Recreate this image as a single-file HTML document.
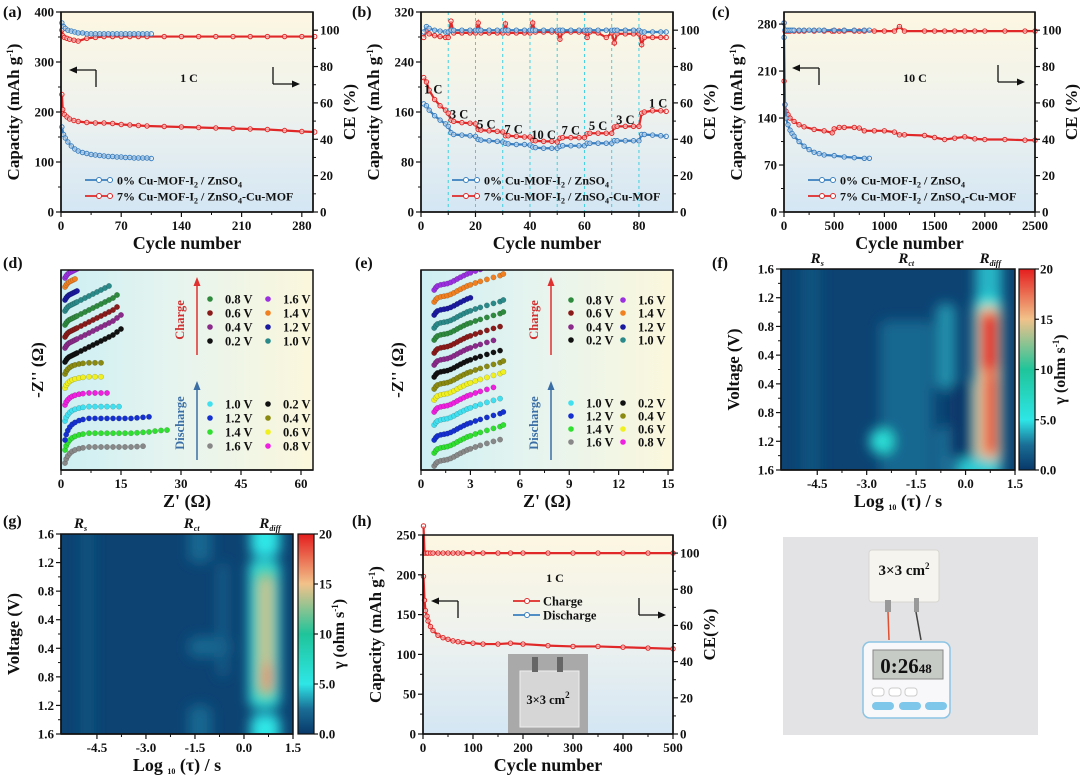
<!DOCTYPE html>
<html><head><meta charset="utf-8"><style>
html,body{margin:0;padding:0;background:#fff;}
svg{display:block;}
text{font-family:"Liberation Serif",serif;font-weight:bold;fill:#111;}
</style></head><body>
<svg id="fig" width="1080" height="775" viewBox="0 0 1080 775">
<defs>
<linearGradient id="bgV" x1="0" y1="0" x2="0" y2="1"><stop offset="0" stop-color="#fdf7e2"/><stop offset="0.5" stop-color="#eef2ee"/><stop offset="1" stop-color="#d4e6f4"/></linearGradient>
<linearGradient id="bgH" x1="0" y1="0" x2="1" y2="0"><stop offset="0" stop-color="#cdeff3"/><stop offset="0.45" stop-color="#e6f4ef"/><stop offset="1" stop-color="#fbf7dc"/></linearGradient>
<linearGradient id="cbar" x1="0" y1="1" x2="0" y2="0"><stop offset="0" stop-color="#08386a"/><stop offset="0.125" stop-color="#1a6e96"/><stop offset="0.25" stop-color="#2ee6e6"/><stop offset="0.5" stop-color="#1fc49a"/><stop offset="0.75" stop-color="#f2c28a"/><stop offset="1" stop-color="#e41e1e"/></linearGradient>
<filter id="blur" x="-50%" y="-50%" width="200%" height="200%"><feGaussianBlur stdDeviation="6"/></filter>
<clipPath id="clipF"><rect x="781" y="269" width="234" height="201"/></clipPath>
<clipPath id="clipG"><rect x="61" y="534" width="232" height="200"/></clipPath>
<clipPath id="clipD"><rect x="61" y="270" width="252" height="200"/></clipPath>
<clipPath id="clipE"><rect x="421" y="270" width="252" height="200"/></clipPath>
</defs>

<!-- panel (i) photo -->
<g>
<rect x="783" y="537" width="255" height="198" fill="#e3e3e5"/>
<rect x="869" y="550" width="70" height="52" rx="3" fill="#f6f4ef" stroke="#d8d6d0"/>
<text x="904" y="575" font-size="15" text-anchor="middle">3×3 cm<tspan dy="-6" font-size="9">2</tspan></text>
<rect x="885" y="600" width="6" height="12" fill="#999"/><rect x="914" y="598" width="5" height="14" fill="#999"/>
<path d="M888 612 L889 640" stroke="#e05030" stroke-width="1.5" fill="none"/>
<path d="M916 612 L921 640" stroke="#444" stroke-width="1.5" fill="none"/>
<rect x="863" y="642" width="87" height="76" rx="7" fill="#f8f8fa" stroke="#8cc4e4" stroke-width="1.5"/>
<rect x="873" y="650" width="70" height="29" fill="#c6cbc6" stroke="#888"/>
<text x="906" y="673" font-size="21" font-family="Liberation Sans, sans-serif" font-weight="normal" text-anchor="middle" fill="#222">0:26<tspan font-size="13">48</tspan></text>
<rect x="872" y="688" width="12" height="8" rx="3" fill="#fff" stroke="#ccc"/><rect x="889" y="688" width="12" height="8" rx="3" fill="#fff" stroke="#ccc"/><rect x="905" y="688" width="12" height="8" rx="3" fill="#fff" stroke="#ccc"/>
<rect x="872" y="702" width="22" height="8" rx="4" fill="#7ec6ea"/><rect x="899" y="702" width="22" height="8" rx="4" fill="#7ec6ea"/><rect x="925" y="702" width="22" height="8" rx="4" fill="#7ec6ea"/>
</g>
</svg>
<script>
// ===== data: panel (a) =====
const aBlueX=[1,3,5,8,12,16,20,25,30,35,40,45,50,55,60,65,70,75,80,85,90,95,100,105];
const aBlueY=[170,155,148,140,132,126,122,119,117,115,114,113,112,111,111,110,110,109,109,108,108,108,108,107];
const aBlueCE=[104,102,101,100,99.5,99,98.5,98.5,98,98,98,98,98,98,98,98,98,98,98,98,98,98,98,98];
const aRedX=[1,2,4,7,10,15,20,30,40,50,60,70,80,90,100,120,140,160,180,200,220,240,260,280,295];
const aRedY=[235,205,195,190,186,183,181,179,178,178,177,175,174,173,172,171,170,169,168,167,166,165,163,161,160];
const aRedCE=[100,97,96,95.5,95,94.5,94,95.5,96,96.5,96.5,96.5,96.5,96.5,96.5,96.5,96.5,96.5,96.5,96.5,96.5,96.5,96.5,96.5,96.5];
const aXTicks=[0,70,140,210,280];
const aYTicks=[0,100,200,300,400];
// ===== data: panel (b) =====
const bX=[1,2,3,5,7,9,10,11,12,15,18,20,21,22,25,28,30,31,32,35,38,40,41,42,45,48,50,51,52,55,58,60,61,62,65,68,70,71,72,75,78,80,81,82,85,88,90];
const bBlueY=[173,170,163,154,147,141,137,127,124,123,122,121,116,115,114,113,112,110,109,108,108,107,104,103,102,102,102,105,106,106,106,106,110,110,110,110,110,114,114,114,114,114,124,124,123,122,121];
const bRedY=[215,208,195,180,170,163,158,147,145,143,142,141,132,131,130,129,128,122,122,121,120,120,115,114,113,113,112,118,119,119,119,119,125,126,126,126,126,136,137,137,137,137,158,160,162,162,161];
const bBlueCE=[99,102,101,100,99.5,99,99,100,100,100,100,100,100,100,100,100,100,100,100,100,100,100,100,100,100,100,100,100,100,100,100,100,100,100,100,100,100,100,100,100,100,100,99,99,99,99,99];
const bRedCE=[96,100,98,97,96.5,96,96,105,98.5,98.5,98.5,98.5,104,98.5,98.5,98.5,98.5,103.5,98.5,98.5,98.5,98.5,104,99,99,99,99,95,99,99,99,99,96,99,98.5,96,98.5,93,98,98,98,98,92,96,96,96,96];
const bXTicks=[0,20,40,60,80];
const bYTicks=[0,80,160,240,320];
const bRateLabels=['1 C','3 C','5 C','7 C','10 C','7 C','5 C','3 C','1 C'];
const bRateX=[4.5,14,24,34,45,55,65,75,87];
const bRateY=[190,150,134,126,117,124,131,141,167];
const bDivs=[10,20,30,40,50,60,70,80];
// ===== data: panel (c) =====
const cBlueX=[1,10,20,40,60,80,100,150,200,250,300,350,400,500,600,700,800,850];
const cBlueY=[260,160,140,130,122,117,113,105,98,93,89,87,85,84,82,81,80,80];
const cBlueCE=[104,100,100,100,100,100,100,100,100,100,100,100,100,100,100,100,100,100];
const cRedX=[1,10,20,40,60,100,150,200,300,400,480,500,550,600,700,750,800,900,1000,1100,1150,1200,1400,1500,1600,1700,1800,1900,2000,2200,2400,2500];
const cRedY=[195,160,150,145,140,135,130,127,123,121,118,124,126,126,126,125,121,121,121,119,115,115,114,111,108,110,112,109,108,108,107,107];
const cRedCE=[104,99.5,99.5,99.5,99.5,99.5,99.5,99.5,99.5,99.5,99.5,99.5,99.5,99.5,99.5,99.5,99.5,99.5,99.5,99.5,102,99.5,99.5,99.5,99.5,99.5,99.5,99.5,99.5,99.5,99.5,99.5];
const cXTicks=[0,500,1000,1500,2000,2500];
const cYTicks=[0,70,140,210,280];
// ===== data: panel (h) =====
const hX=[1,3,5,8,10,15,20,30,40,50,60,70,80,100,120,150,175,200,250,300,350,400,450,500];
const hCap=[198,168,155,148,142,135,130,124,121,119,117,116,115,114,113,113,114,113,111,110,110,109,108,107];
const hCE=[115,100,100,100,100,100,100,100,100,100,100,100,100,100,100,100,100,100,100,100,100,100,100,100];
const hXTicks=[0,100,200,300,400,500];
const hYTicks=[0,50,100,150,200,250];
const ceTicks=[0,20,40,60,80,100];
// ===== data: EIS (d) =====
const dColors=['#888888','#30e030','#1530d0','#40e0f0','#f020e0','#f0f020','#8a8a10','#111111','#8b2a8b','#8b1a1a','#2e8b3e','#2a8a8a','#1a1aa0','#f08020','#9b30e0'];
const dOffset=[3.5,10,15,24.5,32.5,41,48,54,61,66.5,72.5,79.5,85,91.5,96];
const dEnd=[21,26.5,22,15,12.5,11,11,15,15,14.5,14,12,4,3.5,4];
const dKind=['d','d','d','d','d','d','d','c','c','c','c','c','c','c','c'];
const dAmp=[1,1.05,1.35,0.9,0.75,0.7,0.7,1,1,1,1,1,1,1,1];
const dDisShapeX=[0,0.3,0.7,1.2,1.8,2.5,3.5,4.5,6,7.5,9,10.5,12,13.5,15,16.5,18,19.5,21,22.5,24,25.5];
const dDisShapeY=[0,2,3.5,4.8,5.8,6.5,7.2,7.6,8,8,8,8,8,8,8,8,8.2,8.4,8.6,9,9.3,9.5];
const dChgShapeX=[0,0.3,0.6,1,1.5,2,2.5,3,4,5,6,7,8,9,10,11,12,13,14];
const dChgShapeY=[0,1,1.8,2.5,3,3.5,4,4.5,5.5,6.5,7.5,8.5,9.5,10.5,11.5,12.5,13.5,15,16.5];
const dXTicks=[0,15,30,45,60];
// ===== data: EIS (e) =====
const eColors=dColors;
const eOffset=[2,8.5,15,22.5,29,35,40.5,46.5,52.5,58.5,65,71,77.5,84,90];
const eEnd=[4.9,5,5,4.9,4.7,5,5,4.8,4.6,4.9,5,5,3,5,3.6];
const eShapeX=[0.8,0.9,1,1.2,1.4,1.6,1.8,2,2.2,2.4,2.6,2.8,3,3.3,3.6,4,4.4,4.8,5];
const eShapeY=[0,1.2,2,2.6,2.9,3.2,3.8,4.6,5.5,6.4,7.2,8,8.6,9.5,10.3,11.3,12.3,13.2,14];
const eXTicks=[0,3,6,9,12,15];
// legend entries
const chgLabels=['0.8 V','0.6 V','0.4 V','0.2 V','1.6 V','1.4 V','1.2 V','1.0 V'];
const chgColors=['#2e8b3e','#8b1a1a','#8b2a8b','#111111','#9b30e0','#f08020','#1a1aa0','#2a8a8a'];
const disLabels=['1.0 V','1.2 V','1.4 V','1.6 V','0.2 V','0.4 V','0.6 V','0.8 V'];
const disColors=['#40e0f0','#1530d0','#30e030','#888888','#111111','#8a8a10','#f0f020','#f020e0'];
// ===== data: DRT heatmaps =====
const fBlobs=[[-5.0,-4.4,-0.5,7.5,1.2],[-2.6,-1.0,1.8,7.5,2.2],[-2.9,-2.2,5.6,6.4,6],[-0.9,-0.3,1.2,4.2,3.2],[-0.9,0.2,5.5,7.5,2.5],[0.3,1.1,-0.5,7.5,4],[0.25,1.1,1.0,6.8,5.5],[0.35,1.05,1.3,6.7,15],[0.45,1.0,1.5,3.6,20],[0.6,0.95,3.6,6.5,20],[-0.5,0.25,3.9,6.6,0],[-0.2,0.9,6.6,7.5,4.5]];
const gBlobs=[[-5.0,-4.6,-0.5,7.5,1.2],[-1.7,-1.0,-0.5,1,2.2],[-1.7,-0.4,3.6,4.3,2.2],[-1.7,-1.0,6,7.5,2.2],[-0.8,-0.5,1,5,1.8],[0.2,1.1,-0.5,0.8,5],[0.2,1.1,6.3,7.5,5],[0.15,1.1,0.9,6.1,5.5],[0.35,0.95,1.2,5.8,11],[0.45,0.9,1.5,5.6,14],[0.6,0.85,4.5,5.5,17]];
const drtXTicks=[-4.5,-3.0,-1.5,0.0,1.5];
const drtYLabels=['1.6','1.2','0.8','0.4','0.4','0.8','1.2','1.6'];
const cbTicks=[0,5,10,15,20];
const cbLabels=['0.0','5.0','10','15','20'];

// ===== helpers =====
const NS='http://www.w3.org/2000/svg';
const root=document.getElementById('fig');
function mk(tag,attrs,parent){const e=document.createElementNS(NS,tag);for(const k in attrs)e.setAttribute(k,attrs[k]);(parent||root).appendChild(e);return e;}
function txt(x,y,s,attrs,parent){const t=mk('text',Object.assign({x:x,y:y},attrs||{}),parent);t.textContent=s;return t;}
function rich(x,y,parts,attrs,parent){const t=mk('text',Object.assign({x:x,y:y},attrs||{}),parent);parts.forEach(p=>{const ts=mk('tspan',{},t);ts.textContent=p[0];if(p[1]==='sub'){ts.setAttribute('dy','3');ts.setAttribute('font-size','8');}else if(p[1]==='sup'){ts.setAttribute('dy','-6');ts.setAttribute('font-size','9');}else if(p[1]==='back'){ts.setAttribute('dy',p[2]);}});return t;}
function lin(d0,d1,r0,r1){return v=>r0+(v-d0)*(r1-r0)/(d1-d0);}
function line(x1,y1,x2,y2,st,w,parent){return mk('line',{x1:x1,y1:y1,x2:x2,y2:y2,stroke:st||'#111','stroke-width':w||1},parent);}
function hexInt(h){return [parseInt(h.substr(1,2),16),parseInt(h.substr(3,2),16),parseInt(h.substr(5,2),16)];}
const cmapV=[0,2.5,5,10,15,20], cmapC=['#08386a','#1a6e96','#2ee6e6','#1fc49a','#f2c28a','#e41e1e'];
function cmap(v){for(let i=1;i<cmapV.length;i++){if(v<=cmapV[i]){const t=(v-cmapV[i-1])/(cmapV[i]-cmapV[i-1]);const a=hexInt(cmapC[i-1]),b=hexInt(cmapC[i]);return 'rgb('+a.map((c,k)=>Math.round(c+(b[k]-c)*t)).join(',')+')';}}return cmapC[cmapC.length-1];}
function panelLabel(x,y,s){const t=txt(x,y,s,{'font-size':16});}

function xAxis(g,sx,y,ticks,fmt,x0,x1){
  line(x0,y,x1,y,'#111',1.5,g);
  ticks.forEach((v,i)=>{const x=sx(v);line(x,y,x,y+5,'#111',1.2,g);const t=txt(x,y+18,fmt?fmt(v):String(v),{'font-size':13,'text-anchor':'middle'},g);
    if(i<ticks.length-1){const m=sx((v+ticks[i+1])/2);line(m,y,m,y+3,'#111',1,g);}});
}
function yAxisL(g,sy,x,ticks,labels,y0,y1){
  line(x,y0,x,y1,'#111',1.5,g);
  ticks.forEach((v,i)=>{const y=sy(v);line(x-5,y,x,y,'#111',1.2,g);const t=txt(x-7,y+4.5,labels?labels[i]:String(v),{'font-size':13,'text-anchor':'end'},g);
    if(i<ticks.length-1){const m=sy((v+ticks[i+1])/2);line(x-3,m,x,m,'#111',1,g);}});
}
function yAxisR(g,sy,x,ticks,y0,y1){
  line(x,y0,x,y1,'#111',1.5,g);
  ticks.forEach((v,i)=>{const y=sy(v);line(x,y,x+5,y,'#111',1.2,g);const t=txt(x+7,y+4.5,String(v),{'font-size':13},g);
    if(i<ticks.length-1){const m=sy((v+ticks[i+1])/2);line(x,m,x+3,m,'#111',1,g);}});
}
function series(g,xs,ys,sx,sy,color,name,r){
  const sg=mk('g',{},g);
  
  
  mk('polyline',{points:xs.map((x,i)=>sx(x)+','+sy(ys[i])).join(' '),fill:'none',stroke:color,'stroke-width':2.2},sg);
  xs.forEach((x,i)=>{const c=mk('circle',{cx:sx(x),cy:sy(ys[i]),r:r||2.2,fill:'#fff','fill-opacity':0.5,stroke:color,'stroke-width':1},sg);});
}
function arrowL(g,x,y){line(x,y,x,y+17,'#111',1.3,g);line(x,y,x-22,y,'#111',1.3,g);mk('path',{d:`M${x-27} ${y} L${x-19} ${y-3.5} L${x-19} ${y+3.5}Z`,fill:'#111'},g);}
function arrowR(g,x,y){line(x,y,x,y+17,'#111',1.3,g);line(x,y+17,x+22,y+17,'#111',1.3,g);mk('path',{d:`M${x+27} ${y+17} L${x+19} ${y+13.5} L${x+19} ${y+20.5}Z`,fill:'#111'},g);}
function legendEntry(g,x,y,color,parts,name){
  const lg=mk('g',{},g);
  
  
  line(x,y,x+28,y,color,1.8,lg);mk('circle',{cx:x+14,cy:y,r:2.5,fill:'#fff',stroke:color},lg);mk('circle',{cx:x+25,cy:y,r:2.5,fill:'#fff',stroke:color},lg);
  rich(x+32,y+4.5,parts,{'font-size':12},lg);
}
const L0=[['0% Cu-MOF-I'],['2','sub'],[' / ZnSO','back','-3'],['4','sub']];
const L7=[['7% Cu-MOF-I'],['2','sub'],[' / ZnSO','back','-3'],['4','sub'],['-Cu-MOF','back','-3']];

function capPanel(p){
  const g=mk('g',{});
  
  
  mk('rect',{x:p.x0,y:p.y0,width:p.x1-p.x0,height:p.y1-p.y0,fill:'url(#bgV)'},g);
  const sx=lin(0,p.xmax,p.x0,p.x1),sy=lin(0,p.ymax,p.y1,p.y0),sce=lin(0,110,p.y1,p.y0);
  if(p.extra)p.extra(g,sx,sy);
  p.series.forEach(s=>series(g,s.x,s.y,sx,s.ce?sce:sy,s.c,s.n,s.r));
  mk('rect',{x:p.x0,y:p.y0,width:p.x1-p.x0,height:p.y1-p.y0,fill:'none',stroke:'#111','stroke-width':1.5},g);
  xAxis(g,sx,p.y1,p.xt,null,p.x0,p.x1);
  yAxisL(g,sy,p.x0,p.yt,null,p.y0,p.y1);
  yAxisR(g,sce,p.x1,ceTicks,p.y0,p.y1);
  const xt=txt((p.x0+p.x1)/2,p.y1+37,'Cycle number',{'font-size':18,'text-anchor':'middle'},g);
  const cy=(p.y0+p.y1)/2;
  const yt=rich(0,0,[['Capacity (mAh g'],['-1','sup'],[')','back','6']],{'font-size':17,'text-anchor':'middle',transform:`translate(${p.x0-42},${cy}) rotate(-90)`},g);
  const y2=txt(0,0,p.ceTitle||'CE (%)',{'font-size':17,'text-anchor':'middle',transform:`translate(${p.x1+42},${cy}) rotate(-90)`},g);
  return {g,sx,sy,sce};
}

// ===== (a) =====
panelLabel(3,17,'(a)');
const A=capPanel({name:'chart-a-cycling-1C',x0:61,x1:313,y0:12,y1:212,xmax:293,ymax:400,xt:aXTicks,yt:aYTicks,series:[
 {x:aRedX,y:aRedCE,c:'#e02828',ce:true,n:'series-7pct-ce'},{x:aBlueX,y:aBlueCE,c:'#3a7fc0',ce:true,n:'series-0pct-ce'},
 {x:aRedX,y:aRedY,c:'#e02828',n:'series-7pct-capacity'},{x:aBlueX,y:aBlueY,c:'#3a7fc0',n:'series-0pct-capacity'}]});
arrowL(A.g,96,70);arrowR(A.g,273,67);
txt(189,82,'1 C',{'font-size':12,'text-anchor':'middle'},A.g);
legendEntry(A.g,85,180,'#3a7fc0',L0,'legend-0pct');legendEntry(A.g,85,196,'#e02828',L7,'legend-7pct');

// ===== (b) =====
panelLabel(352,17,'(b)');
const B=capPanel({name:'chart-b-rate',x0:421,x1:673,y0:12,y1:212,xmax:92.5,ymax:320,xt:bXTicks,yt:bYTicks,
 extra:(g,sx)=>{bDivs.forEach(v=>{const l=line(sx(v),12,sx(v),212,'#3fd0e0',1,g);l.setAttribute('stroke-dasharray','3,3');});},
 series:[{x:bX,y:bRedCE,c:'#e02828',ce:true,n:'series-7pct-ce'},{x:bX,y:bBlueCE,c:'#3a7fc0',ce:true,n:'series-0pct-ce'},
 {x:bX,y:bRedY,c:'#e02828',n:'series-7pct-capacity'},{x:bX,y:bBlueY,c:'#3a7fc0',n:'series-0pct-capacity'}]});
bRateLabels.forEach((s,i)=>{const t=txt(B.sx(bRateX[i]),B.sy(bRateY[i]),s,{'font-size':12.5,'text-anchor':'middle'},B.g);});
legendEntry(B.g,452,180,'#3a7fc0',L0,'legend-0pct');legendEntry(B.g,452,196,'#e02828',L7,'legend-7pct');

// ===== (c) =====
panelLabel(712,17,'(c)');
const C=capPanel({name:'chart-c-cycling-10C',x0:784,x1:1035,y0:12,y1:212,xmax:2500,ymax:298,xt:cXTicks,yt:cYTicks,series:[
 {x:cRedX,y:cRedCE,c:'#e02828',ce:true,n:'series-7pct-ce'},{x:cBlueX,y:cBlueCE,c:'#3a7fc0',ce:true,n:'series-0pct-ce'},
 {x:cRedX,y:cRedY,c:'#e02828',n:'series-7pct-capacity'},{x:cBlueX,y:cBlueY,c:'#3a7fc0',n:'series-0pct-capacity'}]});
arrowL(C.g,819,68);arrowR(C.g,998,65);
txt(915,82,'10 C',{'font-size':12,'text-anchor':'middle'},C.g);
legendEntry(C.g,808,180,'#3a7fc0',L0,'legend-0pct');legendEntry(C.g,808,196,'#e02828',L7,'legend-7pct');

// ===== (h) =====
panelLabel(352,526,'(h)');
const H=capPanel({name:'chart-h-pouch-cycling',x0:423,x1:673,y0:535,y1:734,xmax:500,ymax:250,xt:hXTicks,yt:hYTicks,ceTitle:'CE(%)',series:[
 {x:hX,y:hCE,c:'#e02828',ce:true,n:'series-ce'},{x:hX,y:hCap,c:'#e02828',n:'series-charge-capacity'}]});
arrowL(H.g,458,601);arrowR(H.g,639,598);
txt(555,582,'1 C',{'font-size':12,'text-anchor':'middle'},H.g);
{const lg=mk('g',{},H.g);line(513,601,540,601,'#e02828',1.8,lg);mk('circle',{cx:527,cy:601,r:2.5,fill:'#fff',stroke:'#e02828'},lg);txt(543,605.5,'Charge',{'font-size':12.5},lg);
 const lg2=mk('g',{},H.g);line(513,615,540,615,'#3a7fc0',1.8,lg2);mk('circle',{cx:527,cy:615,r:2.5,fill:'#fff',stroke:'#3a7fc0'},lg2);txt(543,619.5,'Discharge',{'font-size':12.5},lg2);}
{const ig=mk('g',{},H.g);
 mk('rect',{x:508,y:654,width:80,height:79,fill:'#a9a9a9'},ig);mk('rect',{x:520,y:671,width:59,height:56,fill:'#d6d6d6',stroke:'#eee'},ig);
 mk('rect',{x:532,y:657,width:6,height:15,fill:'#666'},ig);mk('rect',{x:557,y:657,width:6,height:15,fill:'#666'},ig);
 rich(548,704,[['3×3 cm'],['2','sup']],{'font-size':12.5,'text-anchor':'middle'},ig);}

// ===== EIS panels =====
function legendEIS(g,arrowX,textX,c1x,c2x,rowsC,rowsD){
  line(arrowX,355,arrowX,284,'#e03030',1.5,g);mk('path',{d:`M${arrowX} 277 L${arrowX-3.5} 286 L${arrowX+3.5} 286Z`,fill:'#e03030'},g);
  line(arrowX,460,arrowX,388,'#3a6ea5',1.5,g);mk('path',{d:`M${arrowX} 381 L${arrowX-3.5} 390 L${arrowX+3.5} 390Z`,fill:'#3a6ea5'},g);
  const ct=txt(0,0,'Charge',{'font-size':12.5,'text-anchor':'middle',style:'fill:#d03030',transform:`translate(${textX},320) rotate(-90)`},g);
  const dt=txt(0,0,'Discharge',{'font-size':12.5,'text-anchor':'middle',style:'fill:#3a6ea5',transform:`translate(${textX},423) rotate(-90)`},g);
  chgLabels.forEach((s,i)=>{const x=i<4?c1x:c2x,y=rowsC[i%4];const e=mk('g',{},g);mk('circle',{cx:x,cy:y,r:2.8,fill:chgColors[i]},e);txt(x+15,y+4.5,s,{'font-size':12.5},e);});
  disLabels.forEach((s,i)=>{const x=i<4?c1x:c2x,y=rowsD[i%4];const e=mk('g',{},g);mk('circle',{cx:x,cy:y,r:2.8,fill:disColors[i]},e);txt(x+15,y+4.5,s,{'font-size':12.5},e);});
}
function eisFrame(name,x0,x1,xmax,ticks,clip){
  const g=mk('g',{});
  mk('rect',{x:x0,y:270,width:x1-x0,height:200,fill:'url(#bgH)'},g);
  const sx=lin(0,xmax,x0,x1),sy=lin(0,100,470,270);
  const cg=mk('g',{'clip-path':'url(#'+clip+')'},g);
  mk('rect',{x:x0,y:270,width:x1-x0,height:200,fill:'none',stroke:'#111','stroke-width':1.5},g);
  xAxis(g,sx,470,ticks,null,x0,x1);line(x0,270,x0,470,'#111',1.5,g);
  const xt=rich((x0+x1)/2,507,[["Z' (Ω)"]],{'font-size':18,'text-anchor':'middle'},g);
  const yt=txt(0,0,"-Z'' (Ω)",{'font-size':17,'text-anchor':'middle',transform:`translate(${x0-18},370) rotate(-90)`},g);
  return {g,cg,sx,sy};
}
function eisCurve(cg,sx,sy,xs,ys,color){
  const cgp=mk('g',{},cg);
  
  
  xs.forEach((x,i)=>{const c=mk('circle',{cx:sx(x),cy:sy(ys[i]),r:2.7,fill:color,stroke:'rgba(0,0,0,0.25)','stroke-width':0.5},cgp);});
}
panelLabel(3,268,'(d)');
const D=eisFrame('chart-d-eis-0pct',61,313,63,dXTicks,'clipD');
dColors.forEach((col,k)=>{
  const shX=dKind[k]==='d'?dDisShapeX:dChgShapeX, shY=dKind[k]==='d'?dDisShapeY:dChgShapeY;
  const xs=[],ys=[];
  shX.forEach((x,i)=>{if(x+1<=dEnd[k]){xs.push(x+1);ys.push(dOffset[k]+shY[i]*dAmp[k]);}});
  eisCurve(D.cg,D.sx,D.sy,xs,ys,col);
});
legendEIS(D.g,197,184,210,268,[299,313,327,341],[404,418,432,446]);

panelLabel(355,268,'(e)');
const E=eisFrame('chart-e-eis-7pct',421,673,15.3,eXTicks,'clipE');
eColors.forEach((col,k)=>{
  const xs=[],ys=[];
  eShapeX.forEach((x,i)=>{if(x<=eEnd[k]){xs.push(x);ys.push(eOffset[k]+eShapeY[i]);}});
  eisCurve(E.cg,E.sx,E.sy,xs,ys,col);
});
legendEIS(E.g,551,538,571,623,[300,313,327,340],[403,416,429,442]);

// ===== DRT heatmaps =====
function drt(name,blobs,x0,x1,y0,y1,cbx,clip,rs){
  const g=mk('g',{});
  const sx=lin(-5.6,1.5,x0,x1),sy=lin(0,7,y0,y1);
  const cg=mk('g',{'clip-path':'url(#'+clip+')'},g);
  mk('rect',{x:x0,y:y0,width:x1-x0,height:y1-y0,fill:cmap(0.5)},cg);
  const bg=mk('g',{filter:'url(#blur)'},cg);
  blobs.forEach(b=>{const r=mk('rect',{x:sx(b[0]),y:sy(b[2]),width:sx(b[1])-sx(b[0]),height:sy(b[3])-sy(b[2]),rx:8,fill:cmap(b[4])},bg);});
  mk('rect',{x:x0,y:y0,width:x1-x0,height:y1-y0,fill:'none',stroke:'#111','stroke-width':1.5},g);
  xAxis(g,sx,y1,drtXTicks,v=>v.toFixed(1),x0,x1);
  yAxisL(g,sy,x0,[0,1,2,3,4,5,6,7],drtYLabels,y0,y1);
  const xt=rich((x0+x1)/2,y1+37,[['Log '],['10','sub'],[' (τ) / s','back','-3']],{'font-size':18,'text-anchor':'middle'},g);
  const yt=txt(0,0,'Voltage (V)',{'font-size':17,'text-anchor':'middle',transform:`translate(${x0-42},${(y0+y1)/2}) rotate(-90)`},g);
  [['R','s',rs[0]],['R','ct',rs[1]],['R','diff',rs[2]]].forEach(a=>{const t=rich(sx(a[2]),y0-6,[[a[0]],[a[1],'sub']],{'font-size':15,'font-style':'italic','text-anchor':'middle'},g);});
  const cb=mk('g',{},g);
  mk('rect',{x:cbx,y:y0,width:16,height:y1-y0,fill:'url(#cbar)',stroke:'#111','stroke-width':1.2},cb);
  const sc=lin(0,20,y1,y0);
  cbTicks.forEach((v,i)=>{line(cbx+16,sc(v),cbx+20,sc(v),'#111',1.2,cb);const t=txt(cbx+21,sc(v)+4.5,cbLabels[i],{'font-size':13},cb);});
  const ct=rich(0,0,[['γ (ohm s'],['-1','sup'],[')','back','6']],{'font-size':16,'text-anchor':'middle',transform:`translate(${cbx+46},${(y0+y1)/2}) rotate(-90)`},cb);
}
panelLabel(712,268,'(f)');
drt('chart-f-drt-0pct',fBlobs,781,1015,269,470,1019,'clipF',[-4.5,-1.8,0.75]);
panelLabel(3,526,'(g)');
drt('chart-g-drt-7pct',gBlobs,61,293,534,734,298,'clipG',[-5.0,-1.6,0.8]);
panelLabel(712,526,'(i)');
</script>
</body></html>
